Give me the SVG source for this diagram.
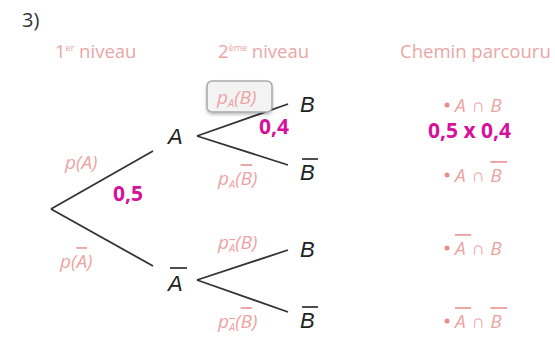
<svg xmlns="http://www.w3.org/2000/svg" width="555" height="338" viewBox="0 0 555 338">
<defs>
<filter id="sh" x="-20%" y="-20%" width="140%" height="150%"><feDropShadow dx="0" dy="2" stdDeviation="1.5" flood-color="#000" flood-opacity="0.25"/></filter>
</defs>
<style>
.hd{font-family:"Open Sans","Liberation Sans",sans-serif;font-size:18.5px;fill:#eaa6a6}
.pl{font-family:"Open Sans","Liberation Sans",sans-serif;font-style:italic;font-size:19px;fill:#eea3a3}
.sub{font-size:11px}
.ov{text-decoration:overline}
.ev{font-family:"Liberation Sans",sans-serif;font-style:italic;font-size:22px;fill:#222}
.val{font-family:"Open Sans","Liberation Sans",sans-serif;font-weight:bold;font-size:21px;fill:#d6119b}
.br{stroke:#333;stroke-width:1.8;fill:none}
.bar{stroke:#222;stroke-width:1.6}
.dot{fill:#e98c8c}
.pa{letter-spacing:5.5px}
</style>
<text x="22" y="27" style="font-family:'Open Sans','Liberation Sans',sans-serif;font-size:20px;fill:#333">3)</text>
<g id="headers">
<text class="hd" x="55" y="58">1<tspan font-size="9" dy="-7">er</tspan><tspan dy="7"> niveau</tspan></text>
<text class="hd" x="218" y="58">2<tspan font-size="9" dy="-7">ème</tspan><tspan dy="7"> niveau</tspan></text>
<text class="hd" x="400" y="58">Chemin parcouru</text>
</g>
<g id="connectors">
<line class="br" x1="51" y1="209" x2="153" y2="151"/>
<line class="br" x1="51" y1="209" x2="153" y2="266"/>
<line class="br" x1="197" y1="136" x2="288" y2="104"/>
<line class="br" x1="197" y1="136" x2="288" y2="165"/>
<line class="br" x1="197" y1="280" x2="288" y2="250"/>
<line class="br" x1="197" y1="280" x2="288" y2="312"/>
</g>
<g id="label-pA"><text class="pl" x="65" y="169">p(A)</text></g>
<g id="label-pAbar"><text class="pl" x="60" y="268">p(<tspan class="ov">A</tspan>)</text></g>
<g id="val-05"><text class="val" x="113" y="201">0,5</text></g>
<g id="node-A"><text class="ev" x="168" y="144">A</text></g>
<g id="node-Abar"><text class="ev" x="168" y="291">A</text><line class="bar" x1="170" y1="268" x2="187" y2="268"/></g>
<g id="label-pAB">
<rect x="207" y="81" width="65" height="31" rx="5" fill="#f3f3f3" stroke="#a9a9a9" stroke-width="1.5" filter="url(#sh)"/>
<text class="pl" x="217" y="104">p<tspan class="sub" dy="3">A</tspan><tspan dy="-3">(B)</tspan></text>
</g>
<g id="val-04"><text class="val" x="259" y="134">0,4</text></g>
<g id="label-pABbar"><text class="pl" x="218" y="185">p<tspan class="sub" dy="3">A</tspan><tspan dy="-3">(<tspan class="ov">B</tspan>)</tspan></text></g>
<g id="label-pAbarB"><text class="pl" x="218" y="249">p<tspan class="sub ov" dy="3">A</tspan><tspan dy="-3">(B)</tspan></text></g>
<g id="label-pAbarBbar"><text class="pl" x="218" y="328">p<tspan class="sub ov" dy="3">A</tspan><tspan dy="-3">(<tspan class="ov">B</tspan>)</tspan></text></g>
<g id="node-B1"><text class="ev" x="300" y="112">B</text></g>
<g id="node-Bbar1"><text class="ev" x="300" y="180">B</text><line class="bar" x1="302" y1="159" x2="318" y2="159"/></g>
<g id="node-B2"><text class="ev" x="300" y="257">B</text></g>
<g id="node-Bbar2"><text class="ev" x="300" y="328">B</text><line class="bar" x1="302" y1="307" x2="318" y2="307"/></g>
<g id="path1"><circle class="dot" cx="447" cy="105" r="2.5"/><text class="pl pa" x="455" y="112">A∩B</text></g>
<g id="val-prod"><text class="val" x="428" y="138">0,5 x 0,4</text></g>
<g id="path2"><circle class="dot" cx="447" cy="175" r="2.5"/><text class="pl pa" x="455" y="182">A∩<tspan class="ov">B</tspan></text></g>
<g id="path3"><circle class="dot" cx="447" cy="248" r="2.5"/><text class="pl pa" x="455" y="255"><tspan class="ov">A</tspan>∩B</text></g>
<g id="path4"><circle class="dot" cx="447" cy="321" r="2.5"/><text class="pl pa" x="455" y="328"><tspan class="ov">A</tspan>∩<tspan class="ov">B</tspan></text></g>
</svg>
